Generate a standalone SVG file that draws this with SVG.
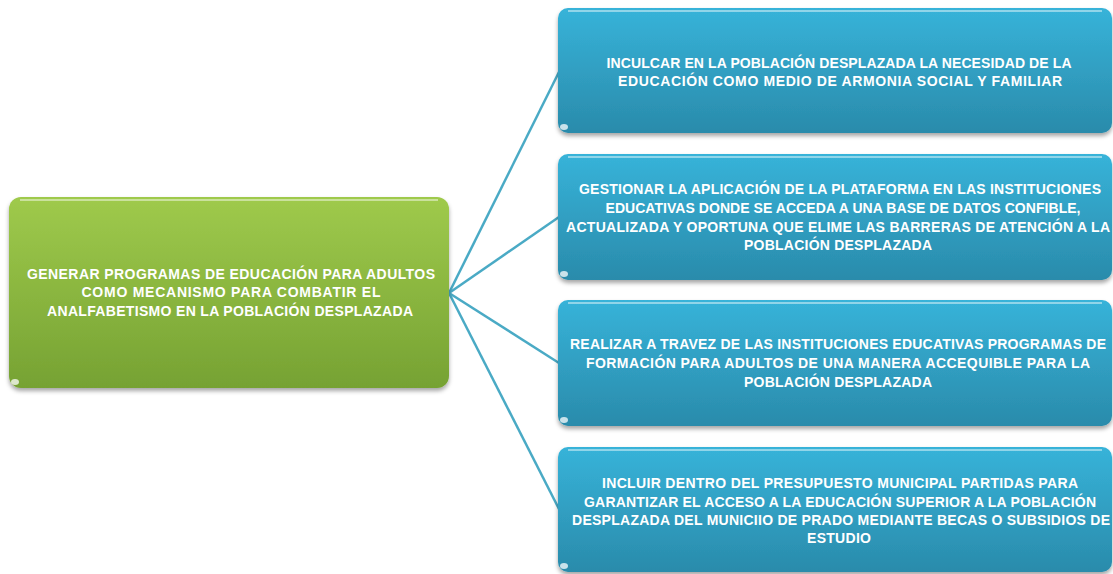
<svg xmlns="http://www.w3.org/2000/svg" width="1113" height="574" viewBox="0 0 1113 574">
<defs>
<linearGradient id="gBlue" x1="0" y1="0" x2="0" y2="1">
<stop offset="0" stop-color="#37b3d9"/>
<stop offset="1" stop-color="#2a8bab"/>
</linearGradient>
<linearGradient id="gGreen" x1="0" y1="0" x2="0" y2="1">
<stop offset="0" stop-color="#9fca4c"/>
<stop offset="1" stop-color="#76a233"/>
</linearGradient>
<filter id="sh" x="-5%" y="-5%" width="110%" height="115%">
<feDropShadow dx="0" dy="3" stdDeviation="2" flood-color="#000" flood-opacity="0.35"/>
</filter>
</defs>
<style>
.t{font-family:"Liberation Sans",Arial,sans-serif;font-weight:bold;font-size:14px;fill:#ffffff;text-anchor:middle}
.hl{fill:none;stroke:#ffffff;stroke-opacity:0.45;stroke-width:2}
.dot{fill:#ffffff;fill-opacity:0.75}
.c{stroke:#4aaac5;stroke-width:2.5;fill:none}
</style>
<rect width="1113" height="574" fill="#ffffff"/>
<g id="connectors">
<line class="c" x1="449" y1="293" x2="559" y2="72"/>
<line class="c" x1="449" y1="293" x2="559" y2="217"/>
<line class="c" x1="449" y1="293" x2="559" y2="363"/>
<line class="c" x1="449" y1="293" x2="559" y2="509"/>
</g>
<g id="root">
<rect x="9" y="197" width="440" height="191" rx="12" fill="url(#gGreen)" filter="url(#sh)"/>
<path class="hl" d="M20 200 H438"/>
<ellipse class="dot" cx="15" cy="382" rx="4" ry="3"/>
<text class="t" x="231" y="279" textLength="408" lengthAdjust="spacing">GENERAR PROGRAMAS DE EDUCACIÓN PARA ADULTOS</text>
<text class="t" x="231" y="297" textLength="299" lengthAdjust="spacing">COMO MECANISMO PARA COMBATIR EL</text>
<text class="t" x="230" y="316" textLength="366" lengthAdjust="spacing">ANALFABETISMO EN LA POBLACIÓN DESPLAZADA</text>
</g>
<g id="n1">
<rect x="558" y="8" width="554" height="125" rx="10" fill="url(#gBlue)" filter="url(#sh)"/>
<path class="hl" d="M568 11 H1102"/>
<ellipse class="dot" cx="564" cy="127" rx="4" ry="3"/>
<text class="t" x="839" y="68" textLength="465" lengthAdjust="spacing">INCULCAR EN LA POBLACIÓN DESPLAZADA LA NECESIDAD DE LA</text>
<text class="t" x="840" y="86" textLength="444" lengthAdjust="spacing">EDUCACIÓN COMO MEDIO DE ARMONIA SOCIAL Y FAMILIAR</text>
</g>
<g id="n2">
<rect x="558" y="154" width="554" height="126" rx="10" fill="url(#gBlue)" filter="url(#sh)"/>
<path class="hl" d="M568 157 H1102"/>
<ellipse class="dot" cx="564" cy="274" rx="4" ry="3"/>
<text class="t" x="840" y="194" textLength="522" lengthAdjust="spacing">GESTIONAR LA APLICACIÓN DE LA PLATAFORMA EN LAS INSTITUCIONES</text>
<text class="t" x="843" y="213" textLength="475" lengthAdjust="spacing">EDUCATIVAS DONDE SE ACCEDA A UNA BASE DE DATOS CONFIBLE,</text>
<text class="t" x="838" y="232" textLength="544" lengthAdjust="spacing">ACTUALIZADA Y OPORTUNA QUE ELIME LAS BARRERAS DE ATENCIÓN A LA</text>
<text class="t" x="838" y="250" textLength="188" lengthAdjust="spacing">POBLACIÓN DESPLAZADA</text>
</g>
<g id="n3">
<rect x="558" y="300" width="554" height="126" rx="10" fill="url(#gBlue)" filter="url(#sh)"/>
<path class="hl" d="M568 303 H1102"/>
<ellipse class="dot" cx="564" cy="420" rx="4" ry="3"/>
<text class="t" x="838" y="349" textLength="536" lengthAdjust="spacing">REALIZAR A TRAVEZ DE LAS INSTITUCIONES EDUCATIVAS PROGRAMAS DE</text>
<text class="t" x="838" y="368" textLength="504" lengthAdjust="spacing">FORMACIÓN PARA ADULTOS DE UNA MANERA ACCEQUIBLE PARA LA</text>
<text class="t" x="838" y="387" textLength="188" lengthAdjust="spacing">POBLACIÓN DESPLAZADA</text>
</g>
<g id="n4">
<rect x="558" y="447" width="554" height="125" rx="10" fill="url(#gBlue)" filter="url(#sh)"/>
<path class="hl" d="M568 450 H1102"/>
<ellipse class="dot" cx="564" cy="566" rx="4" ry="3"/>
<text class="t" x="840" y="488" textLength="476" lengthAdjust="spacing">INCLUIR DENTRO DEL PRESUPUESTO MUNICIPAL PARTIDAS PARA</text>
<text class="t" x="840" y="507" textLength="512" lengthAdjust="spacing">GARANTIZAR EL ACCESO A LA EDUCACIÓN SUPERIOR A LA POBLACIÓN</text>
<text class="t" x="841" y="525" textLength="538" lengthAdjust="spacing">DESPLAZADA DEL MUNICIIO DE PRADO MEDIANTE BECAS O SUBSIDIOS DE</text>
<text class="t" x="839" y="543" textLength="64" lengthAdjust="spacing">ESTUDIO</text>
</g>
</svg>
